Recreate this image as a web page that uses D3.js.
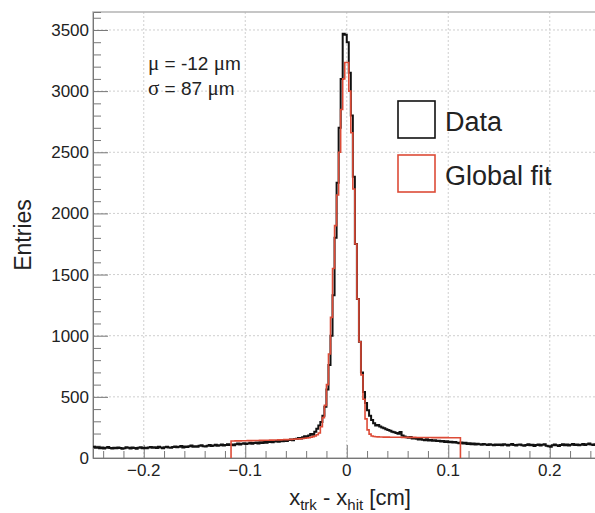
<!DOCTYPE html>
<html>
<head>
<meta charset="utf-8">
<script src="https://cdn.jsdelivr.net/npm/d3@7"></script>
<style>
  body { margin: 0; background: #fff; }
  svg { display: block; font-family: "Liberation Sans", Arial, sans-serif; }
</style>
</head>
<body>
<div id="chart-container"></div>
<script>
{ // start block scope

  // histogram binning (cm)
  const binWidth = 0.002;
  const dataStart = -0.25;
  const fitStart = -0.114;

  // data, left tail (-0.250 .. -0.032)
  const dataLeft = [
    92, 84, 88, 80, 86, 78, 83, 90, 81, 77,
    84, 79, 86, 82, 75, 80, 87, 83, 78, 85,
    81, 76, 83, 88, 80, 84, 79, 86, 90, 83,
    87, 82, 91, 85, 80, 88, 93, 86, 84, 90,
    95, 88, 92, 99, 86, 94, 90, 97, 102, 93,
    96, 91, 100, 104, 97, 95, 101, 106, 99, 103,
    108, 100, 105, 111, 103, 107, 112, 106, 110, 104,
    113, 118, 110, 116, 121, 114, 119, 124, 117, 122,
    126, 119, 128, 123, 131, 125, 130, 136, 128, 134,
    139, 132, 141, 137, 146, 140, 148, 152, 145, 155,
    158, 163, 160, 170, 178, 172, 185, 196, 190, 215
  ];
  // data, core (-0.030 .. 0.028)
  const dataCore = [
    240, 265, 295, 345, 420, 560, 760, 1000, 1330, 1800,
    2250, 2700, 3100, 3470, 3460, 3400, 3150, 2800, 2300, 1750,
    1300, 950, 700, 540, 450, 390, 345, 310, 285, 265
  ];
  // data, right tail (0.030 .. 0.248)
  const dataRight = [
    270, 258, 250, 243, 236, 228, 222, 215, 210, 205,
    198, 212, 185, 176, 170, 166, 172, 160, 163, 157,
    152, 158, 150, 146, 153, 144, 148, 141, 145, 138,
    142, 135, 139, 131, 136, 128, 133, 126, 130, 124,
    121, 127, 118, 124, 115, 120, 113, 118, 111, 116,
    112, 108, 115, 110, 106, 113, 109, 104, 111, 107,
    110, 105, 112, 108, 103, 109, 114, 106, 102, 108,
    111, 105, 100, 107, 113, 104, 109, 98, 106, 110,
    103, 108, 112, 101, 96, 92, 105, 110, 104, 99,
    107, 113, 105, 110, 102, 108, 115, 106, 111, 104,
    109, 114, 107, 112, 118, 110, 106, 113, 117, 111
  ];

  // global fit (-0.114 .. 0.110)
  const fitLeft = [
    139, 139, 140, 140, 140, 141, 141, 141, 142, 142,
    142, 143, 143, 143, 144, 144, 145, 145, 145, 146,
    146, 147, 147, 148, 148, 149, 150, 150, 151, 152,
    153, 154, 155, 156, 157, 159, 161, 163, 166, 170,
    175
  ];
  const fitCore = [
    180, 190, 205, 255, 330, 430, 600, 850, 1150, 1550,
    1900, 2150, 2500, 2850, 3100, 3234, 3234, 3000, 2660, 2200,
    1750, 1300, 950, 680, 480, 320, 230, 195, 180
  ];
  const fitRight = [
    176, 174, 173, 172, 172, 171, 171, 171, 170, 170,
    170, 170, 170, 170, 169, 169, 169, 169, 169, 169,
    169, 168, 168, 168, 168, 168, 168, 168, 168, 167,
    167, 167, 167, 167, 167, 167, 167, 166, 166, 166,
    166, 166, 166
  ];

  // ticks and labels
  const xMajor = [-0.2, -0.1, 0, 0.1, 0.2];
  const xLabels = ['\u22120.2', '\u22120.1', '0', '0.1', '0.2'];
  const yMajor = [0, 500, 1000, 1500, 2000, 2500, 3000, 3500];
  const legendNames = ['Data', 'Global fit'];
  const statLines = [['\u03bc', ' = -12 ', '\u03bc', 'm'], ['\u03c3', ' = 87 ', '\u03bc', 'm']];

  const color = {
    data: '#111111',
    fit: '#dd4b37',
    frame: '#b4b4b4',
    tick: '#777777',
    grid: '#cfcfcf',
    text: '#222222'
  };

  // constants
  const width = 595;
  const height = 513;
  const plot = { left: 93, right: 600.5, top: 12, bottom: 458 };

  const svg = d3.select('#chart-container')
    .append('svg')
    .attr('width', width)
    .attr('height', height);

  const xScale = d3.scaleLinear().domain([-0.25, 0.25]).range([plot.left, plot.right]);
  const yScale = d3.scaleLinear().domain([0, 3647]).range([plot.bottom, plot.top]);

  // grid
  svg.append('g')
    .selectAll('line')
    .data(xMajor)
    .join('line')
    .attr('x1', d => xScale(d)).attr('x2', d => xScale(d))
    .attr('y1', plot.top).attr('y2', plot.bottom)
    .attr('stroke', color.grid).attr('stroke-dasharray', '2,2');
  svg.append('g')
    .selectAll('line')
    .data(yMajor.filter(d => d > 0))
    .join('line')
    .attr('x1', plot.left).attr('x2', plot.right)
    .attr('y1', d => yScale(d)).attr('y2', d => yScale(d))
    .attr('stroke', color.grid).attr('stroke-dasharray', '2,2');

  // frame
  svg.append('rect')
    .attr('x', plot.left).attr('y', plot.top)
    .attr('width', plot.right - plot.left).attr('height', plot.bottom - plot.top)
    .attr('fill', 'none').attr('stroke', color.frame).attr('stroke-width', 1.5);

  // x axis (ticks point up into the frame)
  const xAxis = d3.axisTop(xScale)
    .tickValues(d3.range(-24, 25, 2).map(d => d / 100))
    .tickSize(7).tickFormat('');
  svg.append('g')
    .attr('transform', `translate(0, ${plot.bottom})`)
    .call(xAxis)
    .call(g => g.select('.domain').attr('stroke', color.tick))
    .call(g => g.selectAll('.tick line').attr('stroke', color.tick)
      .attr('y2', d => Math.abs(Math.round(d * 100)) % 10 === 0 ? -13 : -7));
  svg.append('g')
    .selectAll('text')
    .data(xMajor)
    .join('text')
    .attr('x', d => xScale(d))
    .attr('y', 476)
    .attr('text-anchor', 'middle')
    .attr('font-size', 17)
    .attr('fill', color.text)
    .text((d, i) => xLabels[i]);

  // y axis (ticks point right into the frame)
  const yAxis = d3.axisRight(yScale)
    .tickValues(d3.range(0, 3700, 100))
    .tickSize(8).tickFormat('');
  svg.append('g')
    .attr('transform', `translate(${plot.left}, 0)`)
    .call(yAxis)
    .call(g => g.select('.domain').attr('stroke', color.tick))
    .call(g => g.selectAll('.tick line').attr('stroke', color.tick)
      .attr('x2', d => d % 500 === 0 ? 15 : 8));
  svg.append('g')
    .selectAll('text')
    .data(yMajor)
    .join('text')
    .attr('x', 89)
    .attr('y', d => yScale(d) + 6)
    .attr('text-anchor', 'end')
    .attr('font-size', 17)
    .attr('fill', color.text)
    .text(d => d);

  // axis titles
  const xTitle = svg.append('text')
    .attr('x', 350).attr('y', 505)
    .attr('text-anchor', 'middle')
    .attr('font-size', 22)
    .attr('fill', color.text);
  xTitle.append('tspan').text('x');
  xTitle.append('tspan').attr('font-size', 15).attr('dy', 5).text('trk');
  xTitle.append('tspan').attr('dy', -5).text(' - x');
  xTitle.append('tspan').attr('font-size', 15).attr('dy', 5).text('hit');
  xTitle.append('tspan').attr('dy', -5).text(' [cm]');

  svg.append('text')
    .attr('transform', `translate(31, ${(plot.top + plot.bottom) / 2}) rotate(-90)`)
    .attr('text-anchor', 'middle')
    .attr('font-size', 23)
    .attr('fill', color.text)
    .text('Entries');

  // histograms as steps
  function stepPath(values, start, dropEnds) {
    const pts = values.map((v, i) => [start + i * binWidth, v]);
    pts.push([start + values.length * binWidth, values[values.length - 1]]);
    const line = d3.line()
      .x(d => xScale(d[0]))
      .y(d => yScale(d[1]))
      .curve(d3.curveStepAfter);
    let path = line(pts);
    if (dropEnds) {
      const x0 = xScale(start);
      const x1 = xScale(start + values.length * binWidth);
      path = `M${x0},${yScale(0)}L` + path.slice(1) + `L${x1},${yScale(0)}`;
    }
    return path;
  }

  const dataValues = dataLeft.concat(dataCore, dataRight);
  const fitValues = fitLeft.concat(fitCore, fitRight);

  svg.append('clipPath').attr('id', 'plot-clip')
    .append('rect')
    .attr('x', plot.left).attr('y', plot.top)
    .attr('width', plot.right - plot.left).attr('height', plot.bottom - plot.top);

  svg.append('path')
    .attr('clip-path', 'url(#plot-clip)')
    .attr('d', stepPath(dataValues, dataStart, false))
    .attr('fill', 'none')
    .attr('stroke', color.data)
    .attr('stroke-width', 2);

  svg.append('path')
    .attr('d', stepPath(fitValues, fitStart, true))
    .attr('fill', 'none')
    .attr('stroke', color.fit)
    .attr('stroke-width', 1.6);

  // fit results
  statLines.forEach((parts, i) => {
    const t = svg.append('text')
      .attr('x', 148).attr('y', 70 + i * 25)
      .attr('font-size', 19)
      .attr('fill', color.text);
    parts.forEach(p => {
      const greek = /[\u03bc\u03c3]/.test(p);
      t.append('tspan')
        .attr('font-family', greek ? '"Liberation Serif", "Times New Roman", serif' : null)
        .attr('font-size', greek ? 21 : null)
        .text(p);
    });
  });

  // legend
  const legend = svg.append('g');
  legendNames.forEach((name, i) => {
    legend.append('rect')
      .attr('x', 398).attr('y', 101 + i * 54)
      .attr('width', 37).attr('height', 37)
      .attr('fill', '#fff')
      .attr('stroke', i === 0 ? color.data : color.fit)
      .attr('stroke-width', 1.6);
    legend.append('text')
      .attr('x', 445).attr('y', 131 + i * 54)
      .attr('font-size', 27)
      .attr('fill', color.text)
      .text(name);
  });

} // end block scope
</script>
</body>
</html>
